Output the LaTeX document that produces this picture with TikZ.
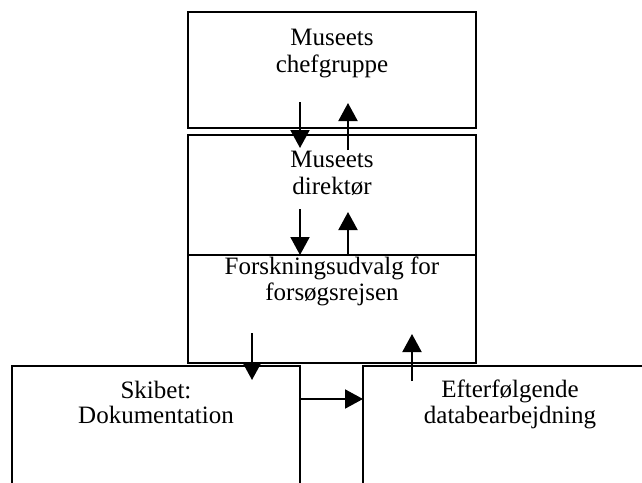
\documentclass[tikz,border=0pt]{standalone}
\usepackage{fontspec}
\setmainfont{Liberation Serif}
\usetikzlibrary{arrows.meta}
\begin{document}
\begin{tikzpicture}[x=1pt,y=-1pt,
  box/.style={draw, line width=2pt, rectangle, anchor=north west, inner sep=0pt, outer sep=0pt},
  lbl/.style={anchor=base, font=\fontsize{25}{30}\selectfont, inner sep=0pt},
  arr/.style={line width=2pt, -{Triangle[length=18pt,width=19pt]}}]
\useasboundingbox (0,0) rectangle (642,482);
\clip (0,0) rectangle (642,482);
\fill[white] (0,0) rectangle (642,482);
% boxes
\node[box, minimum width=288pt, minimum height=116pt] (chef) at (188,12) {};
\node[box, minimum width=288pt, minimum height=120pt] (dir) at (188,135) {};
\node[box, minimum width=288pt, minimum height=108pt] (forsk) at (188,255) {};
\node[box, minimum width=288pt, minimum height=140pt] (skib) at (12,366) {};
\node[box, minimum width=288pt, minimum height=140pt] (efter) at (363,366) {};
% texts
\node[lbl] (chef1) at (332,45) {Museets};
\node[lbl] (chef2) at (332,72) {chefgruppe};
\node[lbl] (dir1) at (332,167) {Museets};
\node[lbl] (dir2) at (332,194) {direktør};
\node[lbl] (fo1) at (332,274) {Forskningsudvalg for};
\node[lbl] (fo2) at (332,300) {forsøgsrejsen};
\node[lbl] (sk1) at (156,398) {Skibet:};
\node[lbl] (sk2) at (156,423) {Dokumentation};
\node[lbl] (ef1) at (510,397) {Efterfølgende};
\node[lbl] (ef2) at (510,423) {databearbejdning};
% arrow end points
\coordinate (a1s) at (300,102); \coordinate (a1e) at (300,148);
\coordinate (a2s) at (348,150); \coordinate (a2e) at (348,103);
\coordinate (a3s) at (300,209); \coordinate (a3e) at (300,255);
\coordinate (a4s) at (348,254); \coordinate (a4e) at (348,212);
\coordinate (a5s) at (252,333); \coordinate (a5e) at (252,380);
\coordinate (a6s) at (412,381); \coordinate (a6e) at (412,334);
\coordinate (a7s) at (skib.east |- 0,399); \coordinate (a7e) at (efter.west |- 0,399);
% arrows
\draw[arr] (a1s) -- (a1e);
\draw[arr] (a2s) -- (a2e);
\draw[arr] (a3s) -- (a3e);
\draw[arr] (a4s) -- (a4e);
\draw[arr] (a5s) -- (a5e);
\draw[arr] (a6s) -- (a6e);
\draw[arr] (a7s) -- (a7e);
\end{tikzpicture}
\end{document}
